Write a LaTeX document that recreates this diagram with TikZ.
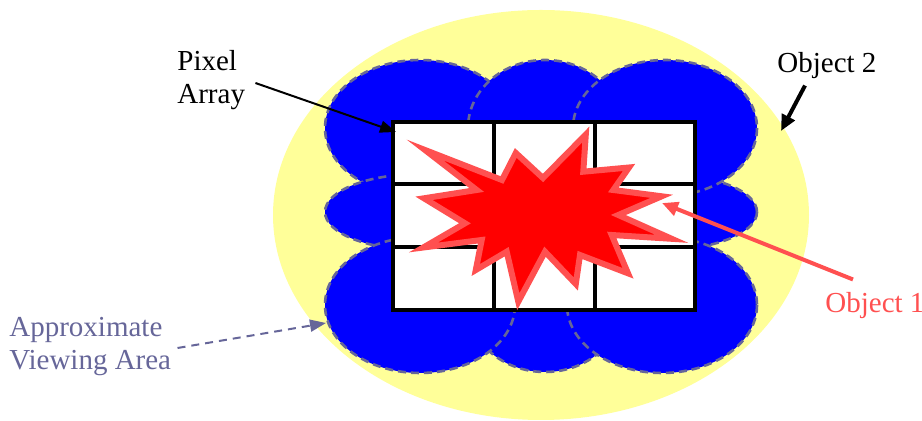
\documentclass[tikz,border=0pt]{standalone}
\usepackage{fontspec}
\setmainfont{Liberation Serif}
\usetikzlibrary{arrows.meta,calc}
\definecolor{vayel}{RGB}{255,255,153}
\definecolor{vablu}{RGB}{0,0,255}
\definecolor{vaedge}{RGB}{102,102,153}
\definecolor{vahit}{RGB}{255,0,0}
\definecolor{varim}{RGB}{255,80,80}
\tikzset{
  blob/.style={fill=vablu, draw=vaedge, line width=1.3pt, dash pattern=on 4pt off 2.5pt},
  cell/.style={draw=black, line width=1.8pt},
  hit/.style={fill=vahit, draw=varim, line width=3pt, line join=miter, miter limit=25},
  lbl/.style={font=\rmfamily\fontsize{14.5}{16.5}\selectfont, inner sep=0pt, align=left},
  blkarr/.style={-{Triangle[length=8pt,width=6pt]}, draw=black, line width=1pt},
  fatarr/.style={-{Triangle[length=8pt,width=7pt]}, draw=black, line width=2pt},
  redarr/.style={-{Triangle[length=8pt,width=7pt]}, draw=varim, line width=2pt},
  viewarr/.style={-{Triangle[length=8pt,width=6pt]}, draw=vaedge, line width=1pt,
    dash pattern=on 4pt off 3pt}
}
\begin{document}
\begin{tikzpicture}[x=0.5pt, y=-0.5pt]
  \useasboundingbox (0,0) rectangle (922,421);
  % object 2
  \fill[vayel] (541,215) ellipse [x radius=268, y radius=205];
  % viewing area
  \draw[blob] (662,212) ellipse [x radius=95, y radius=38];
  \draw[blob] (420,128) ellipse [x radius=95, y radius=68];
  \draw[blob] (545,128) ellipse [x radius=77, y radius=68];
  \draw[blob] (665,128) ellipse [x radius=92, y radius=68];
  \draw[blob] (420,212) ellipse [x radius=95, y radius=38];
  \draw[blob] (545,305) ellipse [x radius=77, y radius=67];
  \draw[blob] (420,305) ellipse [x radius=95, y radius=68];
  \draw[blob] (662,305) ellipse [x radius=95, y radius=68];
  % pixel array
  \fill[white] (393,122) rectangle (695,310);
  \foreach \gx in {393,494,595,695}
    \draw[cell] (\gx,122) -- (\gx,310);
  \foreach \gy in {122,184,247,310}
    \draw[cell] (393,\gy) -- (695,\gy);
  \draw[cell, line cap=rect] (393,122) rectangle (695,310);
  % object 1
  \draw[hit] (425,150) -- (502,180) -- (515.8,153) -- (543,178)
    -- (585.8,134.5) -- (583.3,171.7) -- (629,167.5) -- (613.3,190)
    -- (661.7,196.3) -- (618.3,215) -- (671.7,238.8) -- (611.7,235)
    -- (628,273.3) -- (580,255) -- (575.8,284) -- (545,251.7)
    -- (518.3,301.7) -- (506.7,251.7) -- (475.8,270) -- (481.7,240)
    -- (423.3,247.5) -- (465,223.3) -- (424,198.3) -- (476.7,190) -- cycle;
  % labels
  \node[lbl, anchor=west] (pixlbl) at (177,80) {Pixel\\Array};
  \node[lbl, anchor=base west] (obj2lbl) at (777,73) {Object 2};
  \node[lbl, anchor=base west, text=varim] (obj1lbl) at (825,313) {Object 1};
  \node[lbl, anchor=west, text=vaedge] (viewlbl) at (9,347) {Approximate\\Viewing Area};
  \coordinate (pixtip) at (396,132);
  \coordinate (obj2tip) at (781,131);
  \coordinate (obj1tip) at (662,203);
  \coordinate (viewtip) at (326,323);
  \draw[blkarr] ($(pixlbl.east)+(10,3)$) -- (pixtip);
  \draw[fatarr] ($(obj2lbl.south west)+(28,6)$) -- (obj2tip);
  \draw[redarr] ($(obj1lbl.north west)+(28,-13)$) -- (obj1tip);
  \draw[viewarr] ($(viewlbl.east)+(6,1)$) -- (viewtip);
\end{tikzpicture}
\end{document}
